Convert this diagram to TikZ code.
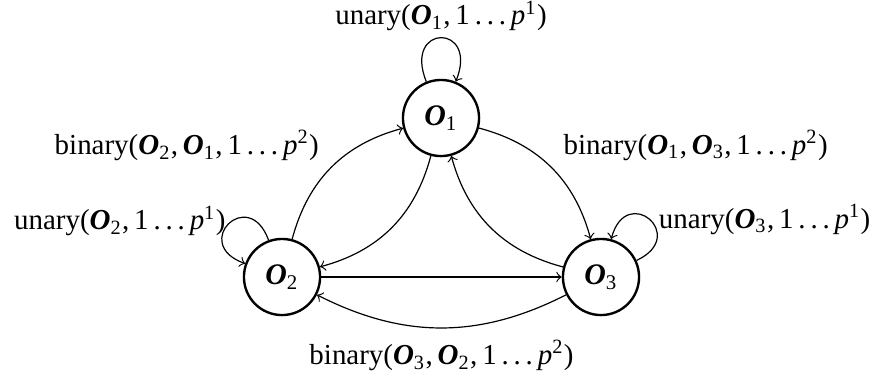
\documentclass[tikz,border=0pt]{standalone}
\usepackage{fontspec}
\setmainfont{Liberation Serif}
\usepackage{tikz}
\usetikzlibrary{positioning}

% bold italic object with index, and the range 1 ... p^k
\newcommand{\ob}[1]{\textbf{\textit{O}}\textsubscript{#1}}
\newcommand{\rng}[1]{1\,.\,.\,.\,\textit{p}\textsuperscript{#1}}

\begin{document}
\begin{tikzpicture}[
    x=0.335pt, y=-0.335pt,
    obj/.style={draw, circle, thick, minimum size=25.5pt, inner sep=0pt},
    arr/.style={->},
    lbl/.style={font=\fontsize{9.7}{12}\selectfont, inner sep=2pt}
]
\useasboundingbox (0,0) rectangle (873,385);

\node[obj] (o1) at (441,118) {\ob{1}};
\node[obj] (o2) at (282,277) {\ob{2}};
\node[obj] (o3) at (601,277) {\ob{3}};

% unary operators
\draw[arr] (o1) to[out=112, in=68, loop, looseness=5.5] node[lbl, above] {unary(\ob{1},\,\rng{1})} (o1);
\draw[arr] (o2) to[out=110, in=160, loop, looseness=4.5] node[lbl, left, pos=0.45] {unary(\ob{2},\,\rng{1})} (o2);
\draw[arr] (o3) to[out=25, in=75, loop, looseness=4.5] node[lbl, right, pos=0.5, xshift=1pt] {unary(\ob{3},\,\rng{1})} (o3);

% binary operators
\draw[arr] (o1) to[bend left=30] node[lbl, above right, xshift=2pt] {binary(\ob{1},\,\ob{3},\,\rng{2})} (o3);
\draw[arr] (o3) to[bend left=30] (o1);
\draw[arr] (o1) to[bend left=30] (o2);
\draw[arr] (o2) to[bend left=30] node[lbl, above left, xshift=-2pt] {binary(\ob{2},\,\ob{1},\,\rng{2})} (o1);
\draw[arr] (o2) -- (o3);
\draw[arr] (o3) to[bend left=27] node[lbl, below, yshift=-2pt] {binary(\ob{3},\,\ob{2},\,\rng{2})} (o2);
\end{tikzpicture}
\end{document}
